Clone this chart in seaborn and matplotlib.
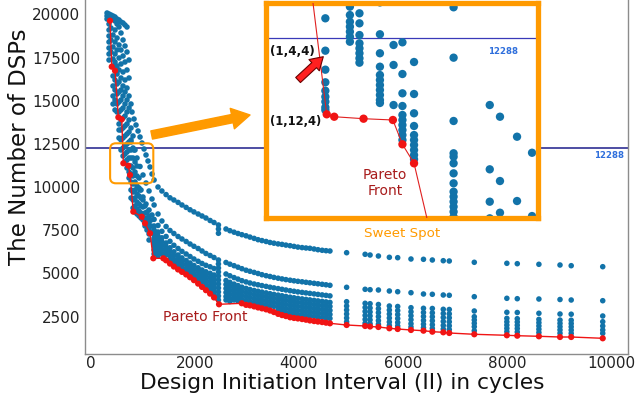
import pandas as pd
import matplotlib
matplotlib.use('Agg')
import matplotlib.pyplot as plt
import seaborn as sns
from matplotlib.patches import FancyBboxPatch

# ---- main design space: steep region (II < 1200), one list of DSP values per II column ----
steep_ii = [317, 355, 393, 432, 470, 509, 547, 585, 624, 662, 700, 739, 777,
            816, 854, 892, 931, 969, 1007, 1046, 1084, 1123, 1161]
steep_dsp = [
    [20080, 19907, 19733],
    [20022, 19849, 19443, 19096, 18749, 18401, 18054, 17706, 17359],
    [19965, 19791, 19212, 18517, 17822],
    [19907, 19733, 18806, 18112, 17417, 17012, 16433, 15854, 15275, 14811],
    [19849, 19617, 19096, 18401, 17706, 17243, 16201, 15622, 15043, 14464],
    [19733, 19443, 18633, 17938, 17012, 16548, 15970, 15391, 14811, 14348],
    [19675, 19270, 18228, 17475, 16780, 16085, 15506, 14927, 14348, 13653, 13306, 12843],
    [19559, 18922, 17938, 17127, 16317, 15622, 15043, 14464, 13885, 13306, 12727, 12148],
    [19501, 18517, 17591, 16664, 15854, 15275, 14580, 14001, 13422, 12843, 12264, 11801],
    [19386, 18170, 17243, 16201, 15506, 14811, 14117, 13538, 12959, 12380, 11917, 11453],
    [19270, 17822, 16780, 15738, 15043, 14348, 13653, 13074, 12495, 12032, 11569, 11106],
    [17359, 16317, 15275, 14580, 13885, 13190, 12611, 12148, 11685, 11222, 10874, 10527],
    [14811, 13422, 12727, 12148, 11685, 11222, 10758, 10295, 9832, 9369],
    [12959, 12264, 11685, 11106, 10643, 10179, 9716, 9253, 8790],
    [12148, 11453, 10874, 10295, 9832, 9369, 8906, 8558],
    [11222, 10643, 10064, 9601, 9137, 8732, 8442],
    [10527, 9948, 9485, 9021, 8616, 8327],
    [9832, 9369, 8906, 8500, 8211],
    [9253, 8848, 8442, 8095],
    [8906, 8500, 8153, 7748],
    [8558, 8211, 7863, 7516],
    [8327, 7979, 7632, 7284, 6937],
    [8095, 7748, 7400],
]

# diagonal streaks right of the steep region
diag_top_ii = [796, 835, 873, 912, 950, 988, 1027, 1065, 1103, 1142, 1180]
diag_top_dsp = [14347, 13943, 13596, 13248, 12901, 12553, 12206, 11859, 11511, 11164, 10758]
diag_mid_ii = [777, 835, 892, 950, 1007, 1065, 1123, 1180]
diag_mid_dsp = [12611, 12148, 11685, 11193, 10700, 10237, 9774, 9311]
diag_low_ii = [950, 1007, 1065, 1123, 1180]
diag_low_dsp = [9832, 9427, 9021, 8674, 8385]

# ---- dense band 1200 <= II <= 4600 ----
band_ii = [1220, 1295, 1370, 1450, 1525, 1600, 1680, 1755, 1835, 1910, 1985, 2065,
           2140, 2215, 2295, 2370, 2455, 2600, 2675, 2755, 2830, 2905, 2985, 3060,
           3140, 3215, 3290, 3370, 3445, 3520, 3600, 3675, 3750, 3830, 3905, 3980,
           4060, 4135, 4210, 4290, 4365, 4445, 4520, 4595]
band_dsp = [
    [10411, 8964, 8130, 7748, 7516, 7284, 7053, 6821, 6590, 6358, 6127],
    [10006, 8442, 7777, 7400, 7169, 6937, 6705, 6474, 6242, 6011],
    [9774, 8037, 7441, 7064, 6833, 6601, 6370, 6138],
    [9566, 7719, 7140, 6764, 6532, 6300, 6069],
    [9380, 7487, 6862, 6486, 6254, 6022, 5791],
    [9253, 7314, 6631, 6254, 6022, 5791, 5606],
    [9114, 7140, 6445, 6069, 5837, 5606, 5403],
    [8964, 6995, 6277, 5900, 5669, 5437, 5258],
    [8825, 6851, 6127, 5750, 5518, 5287, 5113],
    [8686, 6705, 5981, 5606, 5374, 5142, 4940],
    [8564, 6572, 5837, 5461, 5229, 4997, 4795],
    [8442, 6445, 5704, 5327, 5096, 4864, 4650],
    [8327, 6300, 5577, 5200, 4969, 4737, 4506],
    [8211, 6156, 5472, 5096, 4864, 4632, 4401, 4216],
    [8066, 6040, 5386, 5009, 4777, 4546, 4314, 4082],
    [7950, 5924, 5287, 4911, 4679, 4448, 4216, 3984, 3782],
    [7806, 7574, 7325, 5779, 5548, 5316, 5085, 4853, 4621, 4390, 4158, 3926, 3695, 3463],
    [7574, 5635, 4969, 4592, 4361, 4129, 3898, 3666, 3463],
    [7475, 5536, 4864, 4487, 4256, 4024, 3793, 3561, 3376],
    [7389, 5449, 4760, 4384, 4152, 3921, 3689, 3463],
    [7313, 5362, 4673, 4297, 4065, 3834, 3602, 3405],
    [7244, 5275, 4580, 4205, 3973, 3741, 3510],
    [7180, 5188, 4511, 4135, 3903, 3672, 3440],
    [7105, 5125, 4447, 4071, 3840, 3608, 3376],
    [7030, 5061, 4389, 4013, 3782, 3550, 3318],
    [6955, 4997, 4343, 3967, 3735, 3504, 3272],
    [6903, 4928, 4297, 3921, 3689, 3457, 3226],
    [6851, 4870, 4251, 3875, 3643, 3411, 3180],
    [6793, 4824, 4204, 3828, 3596, 3365, 3133],
    [6752, 4772, 4164, 3787, 3556, 3324, 3092],
    [6711, 4725, 4123, 3747, 3515, 3284, 3052, 2855],
    [6682, 4684, 4082, 3707, 3475, 3243, 3012, 2780],
    [6642, 4644, 4042, 3666, 3434, 3203, 2971, 2739],
    [6607, 4609, 4001, 3626, 3394, 3162, 2931, 2699],
    [6567, 4574, 3967, 3591, 3359, 3128, 2896, 2665],
    [6526, 4545, 3932, 3556, 3324, 3092, 2861, 2629],
    [6497, 4517, 3903, 3527, 3295, 3064, 2832, 2601],
    [6474, 4488, 3874, 3498, 3267, 3035, 2803, 2572],
    [6457, 4459, 3845, 3469, 3238, 3006, 2774, 2543],
    [6416, 4430, 3816, 3440, 3209, 2977, 2745, 2514],
    [6375, 4401, 3787, 3411, 3180, 2948, 2716, 2485],
    [6341, 4372, 3758, 3382, 3151, 2919, 2687, 2456],
    [6318, 4343, 3730, 3353, 3122, 2890, 2659, 2427],
    [6300, 4314, 3701, 3324, 3093, 2861, 2629, 2398],
]

# ---- discrete II columns above 4900 ----
far_ii = [4915, 5270, 5365, 5525, 5735, 5895, 6150, 6390, 6560, 6770, 6885, 7365,
          7990, 8190, 8605, 9010, 9225, 9830]
far_top = [6201, 6109, 6068, 6010, 5935, 5912, 5837, 5819, 5779, 5738, 5721, 5646,
           5588, 5565, 5530, 5489, 5449, 5391]
far_mid = [4198, 4082, 4059, 4042, 3984, 3943, 3885, 3810, 3793, 3752, 3735, 3654,
           3561, 3538, 3520, 3491, 3463, 3422]
far_low = [3364, 3272, 3248, 3202, 3115, 3086, 3017, 2982, 2971, 2924, 2913, 2826,
           2750, 2739, 2693, 2652, 2640, 2536]
far_band = [
    [3116, 2884, 2653, 2421, 2200],
    [3030, 2800, 2570, 2340, 2120],
    [3000, 2770, 2540, 2310, 2090],
    [2960, 2730, 2500, 2270, 2060],
    [2880, 2650, 2420, 2190, 1990],
    [2850, 2620, 2390, 2160, 1960],
    [2780, 2550, 2320, 2090, 1900],
    [2740, 2510, 2280, 2060, 1860],
    [2720, 2490, 2260, 2030, 1820],
    [2680, 2450, 2220, 1990, 1780],
    [2660, 2430, 2200, 1970, 1750],
    [2496, 2305, 2113, 1917, 1685],
    [2400, 2200, 2010, 1820, 1630],
    [2380, 2190, 2000, 1810, 1610],
    [2340, 2150, 1960, 1770, 1580],
    [2300, 2110, 1920, 1730, 1540],
    [2290, 2100, 1910, 1720, 1530],
    [2206, 1957, 1726, 1534],
]

# ---- Pareto front ----
pareto_ii = [374, 407, 470, 534, 599, 630, 726, 758, 821, 983, 1046, 1142, 1205, 1397,
             1450, 1525, 1600, 1680, 1755, 1835, 1910, 1985, 2065, 2140, 2215, 2295,
             2370, 2466, 2902, 2985, 3060, 3140, 3215, 3290, 3370, 3445, 3520, 3600,
             3675, 3750, 3830, 3905, 3980, 4060, 4135, 4210, 4290, 4365, 4445, 4520,
             4595, 4915, 5270, 5365, 5525, 5735, 5895, 6150, 6390, 6560, 6770, 6885,
             7365, 7990, 8190, 8605, 9010, 9225, 9830]
pareto_dsp = [19635, 16972, 16740, 14042, 13926, 11378, 11239, 10701, 8576, 8286, 7904,
              7325, 5877, 5877, 5760, 5570, 5400, 5230, 5090, 4940, 4780, 4610, 4410,
              4220, 4030, 3830, 3610, 3214, 3272, 3180, 3150, 3090, 3030, 2977, 2919,
              2850, 2763, 2658, 2588, 2530, 2460, 2421, 2392, 2357, 2320, 2276, 2241,
              2212, 2183, 2148, 2113, 2015, 1957, 1928, 1899, 1824, 1783, 1726, 1685,
              1627, 1592, 1552, 1477, 1419, 1395, 1361, 1320, 1320, 1245]

DSP_LIMIT = 12288

# ---- zoomed view (inset) ----
zoom_ii = [628, 664, 678, 708, 728, 741, 758, 816, 869, 884, 909, 931]
zoom_dsp = [
    [12551, 12125, 11875, 11709, 11598, 11519, 11454, 11380, 11344],
    [12704, 12594, 12506, 12441, 12375, 12309, 12243],
    [12617, 12485, 12331, 12222, 12156, 12091, 12025, 11967],
    [12760, 12341, 12091, 11914, 11805, 11739, 11673, 11608, 11542, 11476, 11437],
    [12200, 11937, 11410],
    [12235, 11818, 11564, 11397, 11279, 11213, 11147, 11081, 11015, 10950],
    [11976, 11555, 11301, 11134, 11015, 10950, 10884, 10818, 10752, 10696],
    [12696, 12033, 11200, 10775, 10730, 10643, 10511, 10380, 10269, 10204, 10138,
     10072, 10006, 9940],
    [11410, 10564, 10138, 9919],
    [11256, 10410, 9993],
    [10993, 10147],
    [10782, 9949],
]
zoom_pareto_ii = [593, 630, 641, 684, 727, 741, 758, 801]
zoom_pareto_dsp = [13984, 11288, 11256, 11230, 11213, 10893, 10643, 9000]


def columns_to_frame(ii_list, dsp_lists):
    rows = [(ii, d) for ii, col in zip(ii_list, dsp_lists) for d in col]
    return pd.DataFrame(rows, columns=['II', 'DSP'])


blue = pd.concat([
    columns_to_frame(steep_ii, steep_dsp),
    pd.DataFrame({'II': diag_top_ii, 'DSP': diag_top_dsp}),
    pd.DataFrame({'II': diag_mid_ii, 'DSP': diag_mid_dsp}),
    pd.DataFrame({'II': diag_low_ii, 'DSP': diag_low_dsp}),
    columns_to_frame(band_ii, band_dsp),
    pd.DataFrame({'II': far_ii, 'DSP': far_top}),
    pd.DataFrame({'II': far_ii, 'DSP': far_mid}),
    pd.DataFrame({'II': far_ii, 'DSP': far_low}),
    columns_to_frame(far_ii, far_band),
], ignore_index=True)
pareto = pd.DataFrame({'II': pareto_ii, 'DSP': pareto_dsp})
zoom_blue = columns_to_frame(zoom_ii, zoom_dsp)
zoom_pareto = pd.DataFrame({'II': zoom_pareto_ii, 'DSP': zoom_pareto_dsp})

# ─── Style ───
sns.set_theme(style='white')
plt.rcParams['font.family'] = ['DejaVu Sans']

BLUE = '#1273a9'
RED = '#f01414'
ORANGE = '#ff9a00'
DARK_RED = '#a81c1c'
LABEL_BLUE = '#2f6fdc'

fig = plt.figure(figsize=(6.36, 4.0), dpi=100)
ax = fig.add_axes([85 / 636, 46 / 400, 543 / 636, 354 / 400])

ax.axhline(DSP_LIMIT, color='#1c1c8a', lw=1.1, zorder=1)
sns.scatterplot(data=blue, x='II', y='DSP', ax=ax, color=BLUE, s=16,
                linewidth=0, edgecolor='none', zorder=2, legend=False)
sns.lineplot(data=pareto, x='II', y='DSP', ax=ax, color=RED, lw=1.0,
             sort=False, estimator=None, zorder=3)
sns.scatterplot(data=pareto, x='II', y='DSP', ax=ax, color=RED, s=20,
                linewidth=0, edgecolor='none', zorder=4, legend=False)

ax.set_xlim(-106, 10315)
ax.set_ylim(336, 20833)
ax.set_xticks([0, 2000, 4000, 6000, 8000, 10000])
ax.set_yticks([2500, 5000, 7500, 10000, 12500, 15000, 17500, 20000])
ax.tick_params(axis='x', length=1.5, width=0.8, color='#888888', pad=0,
               labelsize=10.9, labelcolor='#222222')
ax.tick_params(axis='y', length=0, pad=3.5, labelsize=10.9, labelcolor='#222222')
ax.spines['top'].set_visible(False)
for side in ['left', 'bottom', 'right']:
    ax.spines[side].set_color('#8c8c8c')
    ax.spines[side].set_linewidth(1.0)

ax.set_xlabel('Design Initiation Interval (II) in cycles', fontsize=15.6, color='#111111')
ax.set_ylabel('The Number of DSPs', fontsize=16.5, color='#111111')
ax.xaxis.set_label_coords(0.474, -0.054)
ax.yaxis.set_label_coords(-0.10, 0.585)

ax.text(9950, 11801, '12288', color=LABEL_BLUE, fontsize=6.2, fontweight='bold',
        ha='center', va='center')
ax.text(5972, 7342, 'Sweet Spot', color=ORANGE, fontsize=9.6, ha='center', va='center')
ax.text(2211, 2497, 'Pareto Front', color=DARK_RED, fontsize=10.1, ha='center', va='center')

# sweet-spot marker box and pointer to the zoomed view
box = FancyBboxPatch((376, 10220), 1205 - 376, 12536 - 10220,
                     boxstyle='round,pad=0,rounding_size=110', mutation_aspect=3.0,
                     ec=ORANGE, fc='none', lw=1.5, zorder=5)
ax.add_patch(box)
ax.annotate('', xy=(3061, 14175), xytext=(1174, 13017),
            arrowprops=dict(arrowstyle='simple,head_length=1.3,head_width=1.5,tail_width=0.6',
                            fc=ORANGE, ec=ORANGE, mutation_scale=10, shrinkA=0, shrinkB=0),
            zorder=5)

# ─── Inset: zoom on the sweet spot ───
axin = fig.add_axes([265.8 / 636, (400 - 217.5) / 400, (537.5 - 265.8) / 636, (217.5 - 2.5) / 400])
axin.set_facecolor('white')
axin.axhline(DSP_LIMIT, color='#3a3ab8', lw=0.9, zorder=1)
sns.scatterplot(data=zoom_blue, x='II', y='DSP', ax=axin, color=BLUE, s=36,
                linewidth=0, edgecolor='none', zorder=2, legend=False)
sns.lineplot(data=zoom_pareto, x='II', y='DSP', ax=axin, color='#e02020', lw=0.8,
             sort=False, estimator=None, zorder=3)
sns.scatterplot(data=zoom_pareto, x='II', y='DSP', ax=axin, color=RED, s=36,
                linewidth=0, edgecolor='none', zorder=4, legend=False)
axin.set_xlim(540.7, 939)
axin.set_ylim(9930, 12759)
axin.set_xticks([])
axin.set_yticks([])
axin.set_xlabel('')
axin.set_ylabel('')
for side in axin.spines.values():
    side.set_color(ORANGE)
    side.set_linewidth(3.8)

axin.text(579, 12108, '(1,4,4)', fontsize=8.6, fontweight='bold', color='#111111',
          ha='center', va='center')
axin.text(584, 11187, '(1,12,4)', fontsize=8.4, fontweight='bold', color='#111111',
          ha='center', va='center')
axin.text(888, 12108, '12288', color=LABEL_BLUE, fontsize=6.2, fontweight='bold',
          ha='center', va='center')
axin.text(715.5, 10384, 'Pareto\nFront', color=DARK_RED, fontsize=10, ha='center',
          va='center', linespacing=1.1)
axin.annotate('', xy=(625, 12046), xytext=(588, 11739),
              arrowprops=dict(arrowstyle='simple,head_length=0.9,head_width=1.1,tail_width=0.5',
                              fc='#ff2020', ec='#6a0000', lw=0.8, mutation_scale=10,
                              shrinkA=0, shrinkB=0), zorder=6)

fig.savefig('out.png', dpi=100)
plt.close(fig)
